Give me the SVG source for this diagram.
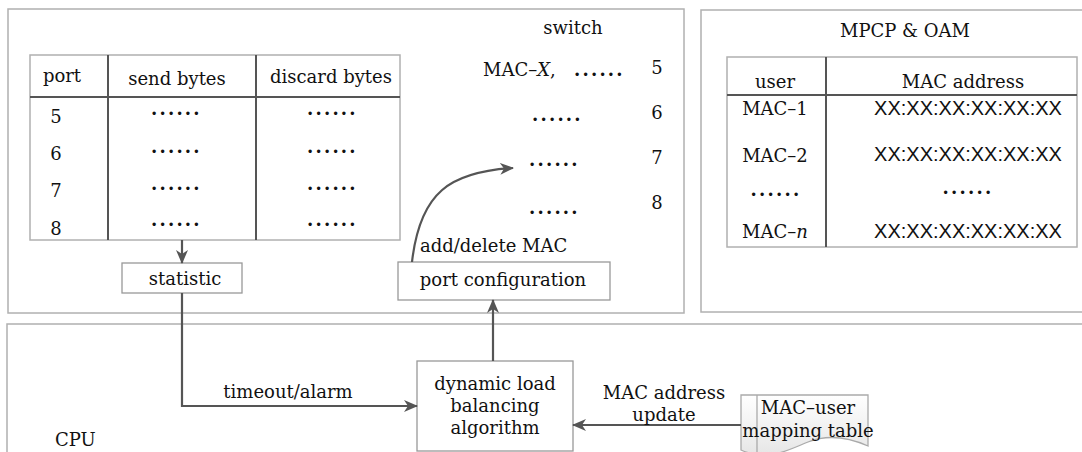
<svg xmlns="http://www.w3.org/2000/svg" width="1082" height="452" viewBox="0 0 1082 452">
<style>
text{font-family:"DejaVu Serif","Liberation Serif",serif;font-size:18px;fill:#111}
.c{text-anchor:middle}
.sans{font-family:"Liberation Sans",Arial,sans-serif;font-size:20px}
.dots{font-weight:bold;letter-spacing:2.2px}
.frame{fill:none;stroke:#b0b0b0;stroke-width:1.5}
.box{fill:#fff;stroke:#999;stroke-width:1.3}
.tline{stroke:#555;stroke-width:2}
.conn{fill:none;stroke:#555;stroke-width:2.2}
</style>
<defs>
<marker id="ah" viewBox="0 0 14 12" refX="13" refY="6" markerWidth="14" markerHeight="12" markerUnits="userSpaceOnUse" orient="auto">
<path d="M0,0 L14,6 L0,12 L4,6 Z" fill="#555"/>
</marker>
<linearGradient id="doc" x1="0" y1="0" x2="0" y2="1">
<stop offset="0" stop-color="#ffffff"/>
<stop offset="1" stop-color="#e6e6e6"/>
</linearGradient>
</defs>
<rect width="1082" height="452" fill="#fff"/>

<g id="switch">
<rect class="frame" x="8" y="9" width="676" height="304"/>
<text class="c" x="573" y="34">switch</text>
<text x="483" y="76">MAC–<tspan font-style="italic">X</tspan>,</text>
<text class="dots" x="574" y="76">......</text>
<text class="c" x="657" y="74">5</text>
<text class="dots" x="532" y="121">......</text>
<text class="c" x="657" y="119">6</text>
<text class="dots" x="529" y="166">......</text>
<text class="c" x="657" y="164">7</text>
<text class="dots" x="529" y="214">......</text>
<text class="c" x="657" y="209">8</text>
</g>

<g id="port-table">
<rect x="30" y="55" width="370" height="185" fill="#fff" stroke="#b0b0b0" stroke-width="1.5"/>
<line class="tline" x1="30" y1="97" x2="400" y2="97"/>
<line class="tline" x1="108" y1="55" x2="108" y2="240"/>
<line class="tline" x1="256" y1="55" x2="256" y2="240"/>
<text class="c" x="62" y="82">port</text>
<text class="c" x="177" y="85">send bytes</text>
<text class="c" x="331" y="83">discard bytes</text>
<text class="c" x="56" y="123">5</text>
<text class="c" x="56" y="160">6</text>
<text class="c" x="56" y="197">7</text>
<text class="c" x="56" y="235">8</text>
<text class="dots" x="151" y="115">......</text>
<text class="dots" x="307" y="115">......</text>
<text class="dots" x="151" y="153">......</text>
<text class="dots" x="307" y="153">......</text>
<text class="dots" x="151" y="190">......</text>
<text class="dots" x="307" y="190">......</text>
<text class="dots" x="151" y="226">......</text>
<text class="dots" x="307" y="226">......</text>
</g>

<g id="statistic">
<rect class="box" x="122" y="263" width="120" height="30"/>
<text class="c" x="185" y="285">statistic</text>
</g>

<g id="port-configuration">
<rect class="box" x="398" y="262" width="212" height="38"/>
<text class="c" x="503" y="286">port configuration</text>
</g>

<g id="mpcp-oam">
<rect class="frame" x="701" y="10" width="400" height="302"/>
<text class="c" x="905" y="37">MPCP &amp; OAM</text>
</g>

<g id="user-table">
<rect x="727" y="57" width="350" height="190" fill="#fff" stroke="#b0b0b0" stroke-width="1.5"/>
<line class="tline" x1="727" y1="95" x2="1077" y2="95"/>
<line class="tline" x1="826" y1="57" x2="826" y2="247"/>
<text class="c" x="775" y="88">user</text>
<text class="c" x="963" y="88">MAC address</text>
<text class="c" x="775" y="115">MAC–1</text>
<text class="c" x="775" y="162">MAC–2</text>
<text class="c dots" x="776" y="196">......</text>
<text class="c" x="775" y="238">MAC–<tspan font-style="italic">n</tspan></text>
<text class="c sans" x="968" y="115">XX:XX:XX:XX:XX:XX</text>
<text class="c sans" x="968" y="161">XX:XX:XX:XX:XX:XX</text>
<text class="c dots" x="968" y="194">......</text>
<text class="c sans" x="968" y="238">XX:XX:XX:XX:XX:XX</text>
</g>

<g id="cpu">
<rect class="frame" x="7" y="324" width="1100" height="200"/>
<text x="55" y="446">CPU</text>
</g>

<g id="dynamic-load-balancing">
<rect class="box" x="417" y="361" width="156" height="90"/>
<text class="c" x="495" y="390">dynamic load</text>
<text class="c" x="495" y="412">balancing</text>
<text class="c" x="495" y="434">algorithm</text>
</g>

<g id="mac-user-mapping-table">
<path d="M741,395 H868 V446 C850,438 828,434 808,442 C788,450 768,462 741,450 Z" fill="url(#doc)" stroke="#aaa" stroke-width="1.3"/>
<line x1="757" y1="395" x2="757" y2="456" stroke="#aaa" stroke-width="1.3"/>
<text class="c" x="808" y="414">MAC–user</text>
<text class="c" x="808" y="437">mapping table</text>
</g>

<g id="connectors">
<line class="conn" x1="182" y1="240" x2="182" y2="263" marker-end="url(#ah)"/>
<path class="conn" d="M182,293 V406 H417" marker-end="url(#ah)"/>
<line class="conn" x1="493" y1="361" x2="493" y2="300" marker-end="url(#ah)"/>
<path class="conn" d="M412,262 C420,192 450,172 513,168" marker-end="url(#ah)"/>
<line class="conn" x1="741" y1="425" x2="573" y2="425" marker-end="url(#ah)"/>
<text x="420" y="252">add/delete MAC</text>
<text class="c" x="288" y="398">timeout/alarm</text>
<text class="c" x="664" y="399">MAC address</text>
<text class="c" x="664" y="421">update</text>
</g>
</svg>
